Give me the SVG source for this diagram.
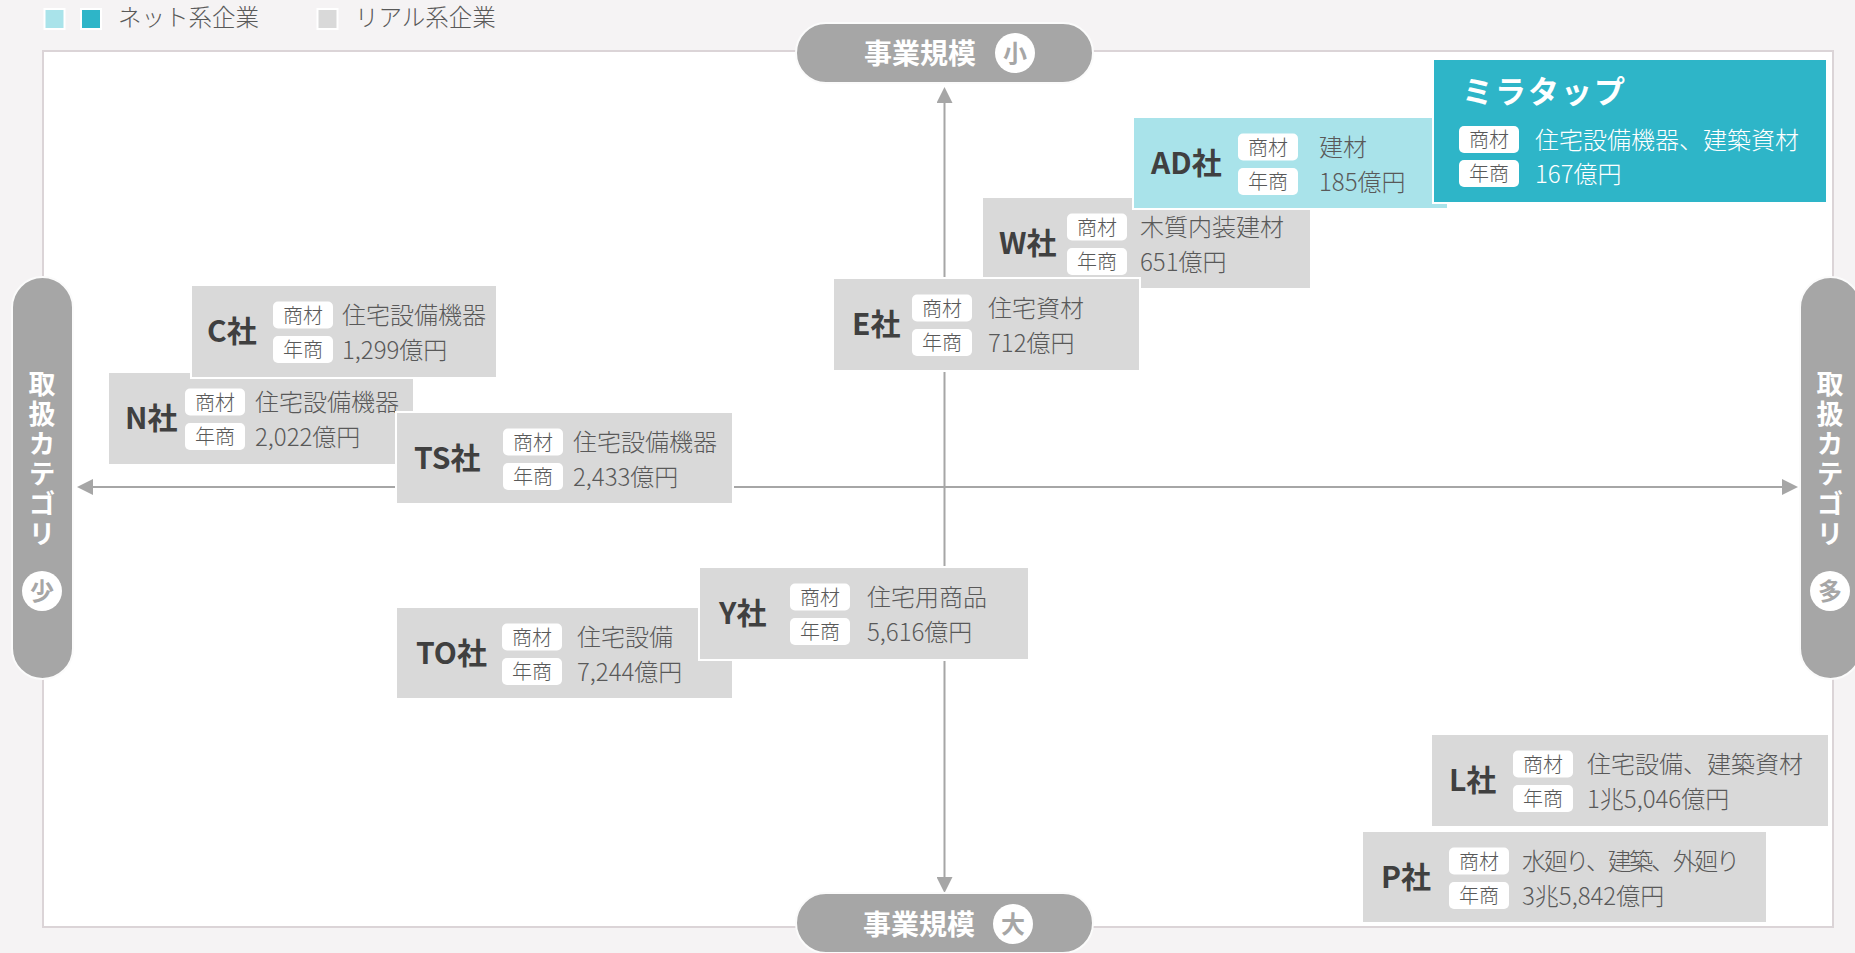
<svg xmlns="http://www.w3.org/2000/svg" width="1855" height="953" viewBox="0 0 1855 953">
<defs>
<style>
text{font-family:"Noto Sans CJK JP","Noto Sans",sans-serif}
.bg{fill:#f5f3f4}
.frame{fill:#fff;stroke:#dbd4d7;stroke-width:2}
.pill{fill:#a6a6a6;stroke:#fbfbfb;stroke-width:2}
.pillt{fill:#fff;font-size:28px;font-weight:700}
.badge{fill:#fff}
.badget{fill:#a6a6a6;font-size:24px;font-weight:700;text-anchor:middle}
.axis{stroke:#a6a6a6;stroke-width:2;fill:none}
.gray{fill:#d9d9d9;stroke:#fff;stroke-width:2}
.lcyan{fill:#a9e3ea;stroke:#fff;stroke-width:2}
.cyan{fill:#2eb5c8;stroke:#fff;stroke-width:2}
.name{fill:#404040;font-size:30px;font-weight:700}
.tag{fill:#fff}
.tagt{fill:#595959;font-size:20px;font-weight:300;text-anchor:middle}
.val{fill:#595959;font-size:24px;font-weight:300}
.wval{fill:#fff;font-size:24px;font-weight:300}
.leg{fill:#595959;font-size:23.5px;font-weight:300}
</style>
<marker id="arr" markerUnits="userSpaceOnUse" markerWidth="16" markerHeight="16" viewBox="0 0 15 15" refX="0" refY="7.5" orient="auto-start-reverse">
<path d="M0,0 L15,7.5 L0,15 z" fill="#a6a6a6"/>
</marker>
</defs>
<rect class="bg" x="0" y="0" width="1855" height="953"/>
<g id="legend">
<rect x="44.5" y="9" width="20" height="20" class="lcyan"/>
<rect x="81" y="9" width="20" height="20" class="cyan"/>
<text class="leg" x="118" y="26">ネット系企業</text>
<rect x="317.5" y="9" width="20" height="20" class="gray"/>
<text class="leg" x="355" y="26">リアル系企業</text>
</g>
<rect id="plot-frame" class="frame" x="43" y="51" width="1790" height="876"/>
<g id="connectors">
<path class="axis" d="M944.5,103 L944.5,877" marker-start="url(#arr)" marker-end="url(#arr)"/>
<path class="axis" d="M93,487 L1782,487" marker-start="url(#arr)" marker-end="url(#arr)"/>
</g>
<g id="axis-top">
<rect class="pill" x="796" y="23" width="297" height="60" rx="30"/>
<text class="pillt" x="864" y="64">事業規模</text>
<circle class="badge" cx="1015" cy="53" r="20"/>
<text class="badget" x="1015" y="62">小</text>
</g>
<g id="axis-bottom">
<rect class="pill" x="796" y="893" width="297" height="60" rx="30"/>
<text class="pillt" x="863" y="935">事業規模</text>
<circle class="badge" cx="1013" cy="924" r="20"/>
<text class="badget" x="1013" y="933">大</text>
</g>
<g id="axis-left">
<rect class="pill" x="12" y="277" width="61" height="402" rx="30.5"/>
<text class="pillt" x="42" y="370" style="writing-mode:vertical-rl;letter-spacing:3px;font-size:27px">取扱カテゴリ</text>
<circle class="badge" cx="42" cy="591" r="20"/>
<text class="badget" x="42" y="600">少</text>
</g>
<g id="axis-right">
<rect class="pill" x="1800" y="277" width="61" height="402" rx="30.5"/>
<text class="pillt" x="1830" y="370" style="writing-mode:vertical-rl;letter-spacing:3px;font-size:27px">取扱カテゴリ</text>
<circle class="badge" cx="1830" cy="591" r="20"/>
<text class="badget" x="1830" y="600">多</text>
</g>
<g id="node-N" transform="translate(108,372)">
<rect class="gray" width="306" height="93"/>
<text class="name" x="17" y="57">N社</text>
<rect class="tag" x="77" y="16.5" width="60" height="27" rx="5"/>
<text class="tagt" x="107" y="37.5">商材</text>
<rect class="tag" x="77" y="51" width="60" height="27" rx="5"/>
<text class="tagt" x="107" y="72">年商</text>
<text class="val" x="147" y="39">住宅設備機器</text>
<text class="val" x="147" y="73.5">2,022億円</text>
</g>
<g id="node-C" transform="translate(191,285)">
<rect class="gray" width="306" height="93"/>
<text class="name" x="16" y="57">C社</text>
<rect class="tag" x="82" y="16.5" width="60" height="27" rx="5"/>
<text class="tagt" x="112" y="37.5">商材</text>
<rect class="tag" x="82" y="51" width="60" height="27" rx="5"/>
<text class="tagt" x="112" y="72">年商</text>
<text class="val" x="151" y="39">住宅設備機器</text>
<text class="val" x="151" y="73.5">1,299億円</text>
</g>
<g id="node-TS" transform="translate(396,412)">
<rect class="gray" width="337" height="92"/>
<text class="name" x="18" y="57">TS社</text>
<rect class="tag" x="107" y="16.5" width="60" height="27" rx="5"/>
<text class="tagt" x="137" y="37.5">商材</text>
<rect class="tag" x="107" y="51" width="60" height="27" rx="5"/>
<text class="tagt" x="137" y="72">年商</text>
<text class="val" x="177" y="39">住宅設備機器</text>
<text class="val" x="177" y="73.5">2,433億円</text>
</g>
<g id="node-W" transform="translate(982,197)">
<rect class="gray" width="329" height="92"/>
<text class="name" x="17" y="57">W社</text>
<rect class="tag" x="85" y="16.5" width="60" height="27" rx="5"/>
<text class="tagt" x="115" y="37.5">商材</text>
<rect class="tag" x="85" y="51" width="60" height="27" rx="5"/>
<text class="tagt" x="115" y="72">年商</text>
<text class="val" x="158" y="39">木質内装建材</text>
<text class="val" x="158" y="73.5">651億円</text>
</g>
<g id="node-E" transform="translate(833,278)">
<rect class="gray" width="307" height="93"/>
<text class="name" x="19" y="57">E社</text>
<rect class="tag" x="79" y="16.5" width="60" height="27" rx="5"/>
<text class="tagt" x="109" y="37.5">商材</text>
<rect class="tag" x="79" y="51" width="60" height="27" rx="5"/>
<text class="tagt" x="109" y="72">年商</text>
<text class="val" x="155" y="39">住宅資材</text>
<text class="val" x="155" y="73.5">712億円</text>
</g>
<g id="node-AD" transform="translate(1133,117)">
<rect class="lcyan" width="315" height="92"/>
<text class="name" x="18" y="57">AD社</text>
<rect class="tag" x="105" y="16.5" width="60" height="27" rx="5"/>
<text class="tagt" x="135" y="37.5">商材</text>
<rect class="tag" x="105" y="51" width="60" height="27" rx="5"/>
<text class="tagt" x="135" y="72">年商</text>
<text class="val" x="186" y="39">建材</text>
<text class="val" x="186" y="73.5">185億円</text>
</g>
<g id="node-miratap" transform="translate(1433,59)">
<rect class="cyan" width="394" height="144"/>
<text x="29" y="44" style="fill:#fff;font-size:31px;font-weight:700;letter-spacing:2px">ミラタップ</text>
<rect class="tag" x="26" y="67" width="60" height="27" rx="5"/>
<text class="tagt" x="56" y="88">商材</text>
<rect class="tag" x="26" y="101" width="60" height="27" rx="5"/>
<text class="tagt" x="56" y="122">年商</text>
<text class="wval" x="102" y="89.5">住宅設備機器、建築資材</text>
<text class="wval" x="102" y="123.5">167億円</text>
</g>
<g id="node-TO" transform="translate(396,607)">
<rect class="gray" width="337" height="92"/>
<text class="name" x="20" y="57">TO社</text>
<rect class="tag" x="106" y="16.5" width="60" height="27" rx="5"/>
<text class="tagt" x="136" y="37.5">商材</text>
<rect class="tag" x="106" y="51" width="60" height="27" rx="5"/>
<text class="tagt" x="136" y="72">年商</text>
<text class="val" x="181" y="39">住宅設備</text>
<text class="val" x="181" y="73.5">7,244億円</text>
</g>
<g id="node-Y" transform="translate(699,567)">
<rect class="gray" width="330" height="93"/>
<text class="name" x="20" y="57">Y社</text>
<rect class="tag" x="91" y="16.5" width="60" height="27" rx="5"/>
<text class="tagt" x="121" y="37.5">商材</text>
<rect class="tag" x="91" y="51" width="60" height="27" rx="5"/>
<text class="tagt" x="121" y="72">年商</text>
<text class="val" x="168" y="39">住宅用商品</text>
<text class="val" x="168" y="73.5">5,616億円</text>
</g>
<g id="node-L" transform="translate(1431,734)">
<rect class="gray" width="398" height="93"/>
<text class="name" x="18" y="57">L社</text>
<rect class="tag" x="82" y="16.5" width="60" height="27" rx="5"/>
<text class="tagt" x="112" y="37.5">商材</text>
<rect class="tag" x="82" y="51" width="60" height="27" rx="5"/>
<text class="tagt" x="112" y="72">年商</text>
<text class="val" x="156" y="39">住宅設備、建築資材</text>
<text class="val" x="156" y="73.5">1兆5,046億円</text>
</g>
<g id="node-P" transform="translate(1362,831)">
<rect class="gray" width="405" height="92"/>
<text class="name" x="19" y="57">P社</text>
<rect class="tag" x="87" y="16.5" width="60" height="27" rx="5"/>
<text class="tagt" x="117" y="37.5">商材</text>
<rect class="tag" x="87" y="51" width="60" height="27" rx="5"/>
<text class="tagt" x="117" y="72">年商</text>
<text class="val" x="160" y="39" textLength="218" lengthAdjust="spacing">水廻り、建築、外廻り</text>
<text class="val" x="160" y="73.5">3兆5,842億円</text>
</g>
</svg>
